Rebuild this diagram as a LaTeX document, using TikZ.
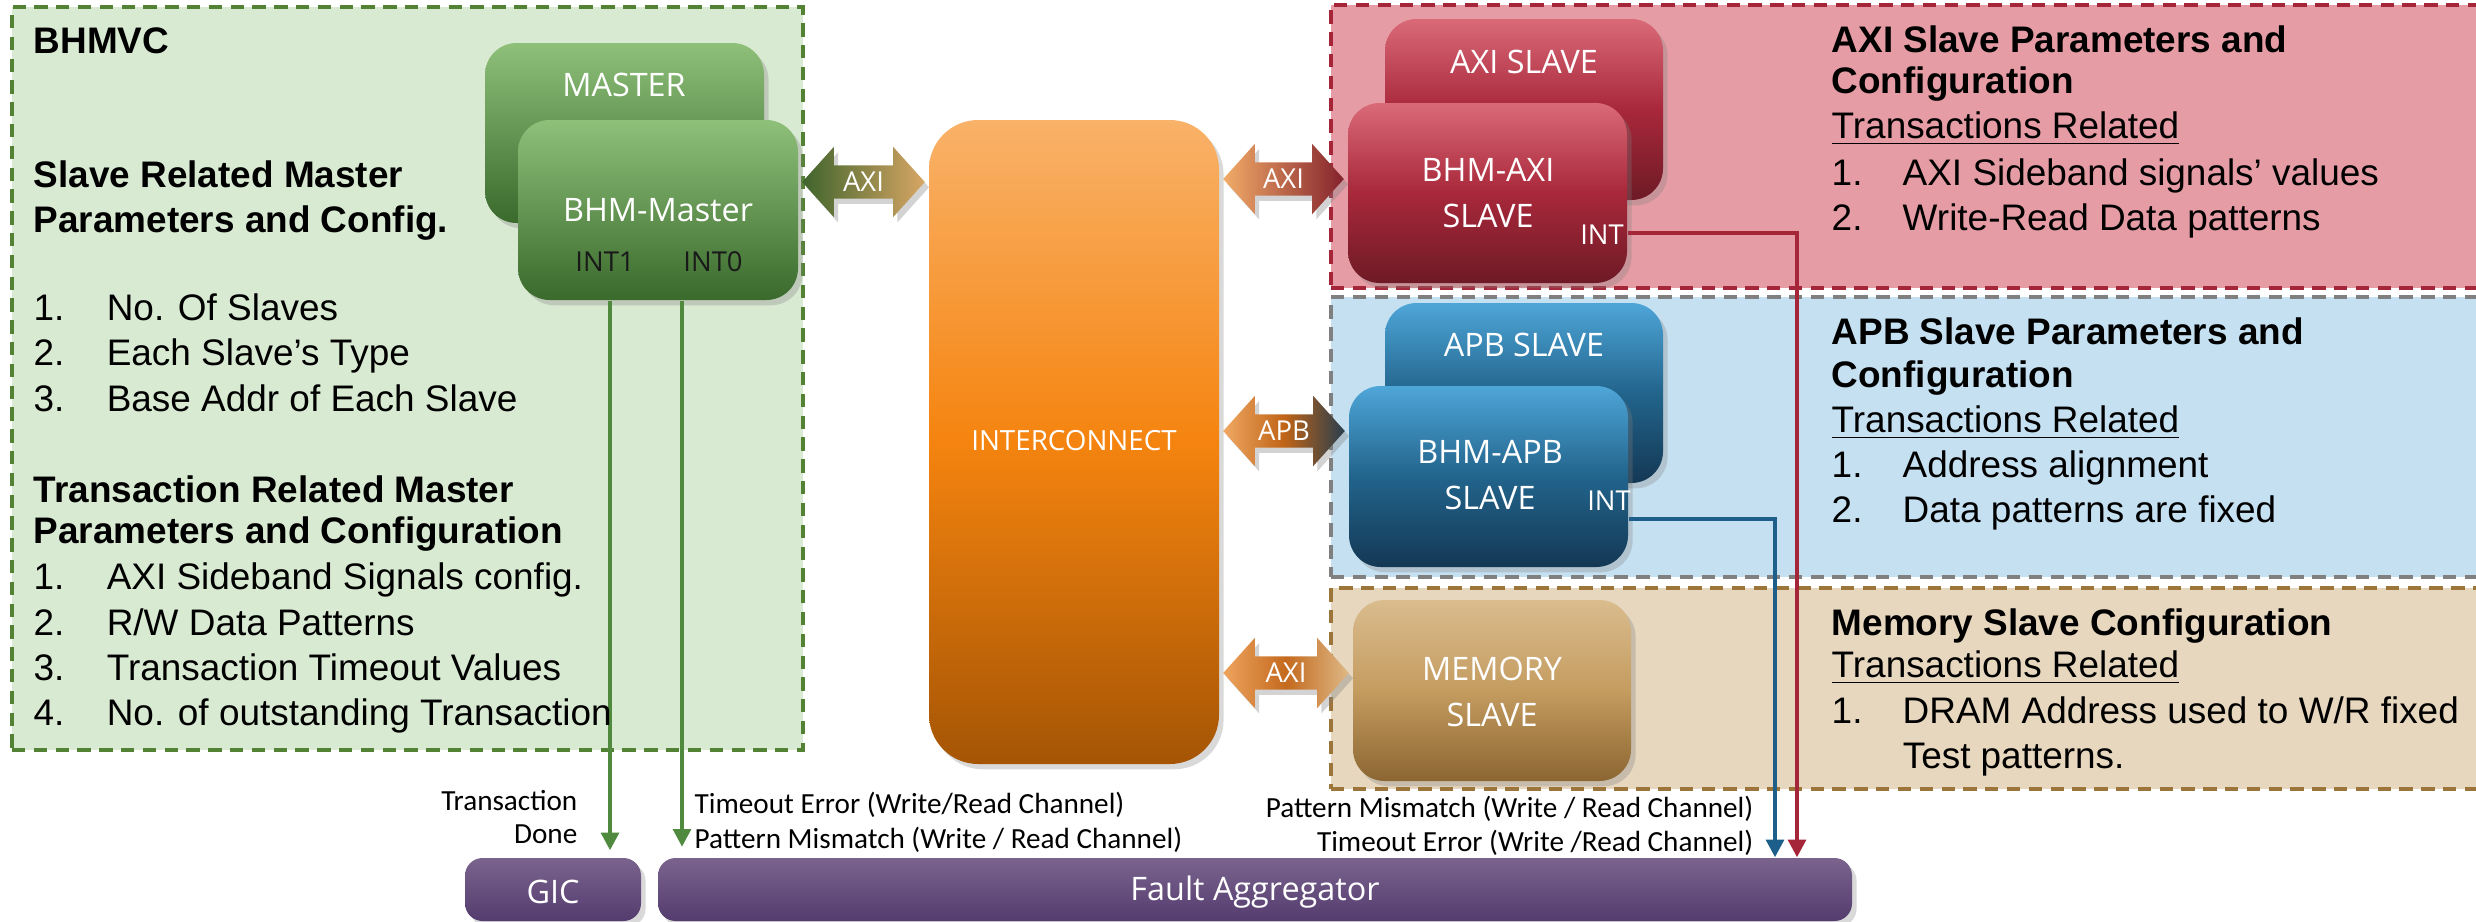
\documentclass[tikz,border=0pt]{standalone}
\usepackage{fontspec}
\setmainfont{Liberation Sans}
\newfontfamily\shapefont{Open Sans}
\newfontfamily\labelfont{Carlito}
\usetikzlibrary{shadows,fit,calc,arrows.meta}
\definecolor{grnF}{RGB}{217,234,211}
\definecolor{grnB}{RGB}{84,130,53}
\definecolor{redF}{RGB}{229,156,164}
\definecolor{redB}{RGB}{165,38,56}
\definecolor{bluF}{RGB}{197,224,241}
\definecolor{bluB}{RGB}{128,128,128}
\definecolor{brnF}{RGB}{230,215,190}
\definecolor{brnB}{RGB}{156,117,58}
\definecolor{mstT}{RGB}{142,192,122}
\definecolor{mstB}{RGB}{58,106,44}
\definecolor{axT}{RGB}{218,106,120}
\definecolor{axM}{RGB}{168,40,58}
\definecolor{axB}{RGB}{110,26,38}
\definecolor{apT}{RGB}{78,166,216}
\definecolor{apM}{RGB}{34,100,140}
\definecolor{apB}{RGB}{20,56,84}
\definecolor{mmT}{RGB}{218,188,142}
\definecolor{mmM}{RGB}{196,156,96}
\definecolor{mmB}{RGB}{140,102,50}
\definecolor{icT}{RGB}{249,178,105}
\definecolor{icM}{RGB}{245,132,15}
\definecolor{icB}{RGB}{165,85,5}
\definecolor{puT}{RGB}{122,100,142}
\definecolor{puB}{RGB}{84,60,110}
\definecolor{lnG}{RGB}{80,138,62}
\definecolor{lnB}{RGB}{30,94,138}
\definecolor{lnR}{RGB}{165,38,56}
\definecolor{aGL}{RGB}{62,100,44}
\definecolor{aGR}{RGB}{216,166,100}
\definecolor{aRL}{RGB}{242,172,104}
\definecolor{aRR}{RGB}{132,34,44}
\definecolor{aPL}{RGB}{240,168,100}
\definecolor{aPM}{RGB}{192,100,22}
\definecolor{aPR}{RGB}{40,62,78}
\definecolor{aML}{RGB}{238,164,94}
\definecolor{aMM}{RGB}{196,106,30}
\definecolor{aMR}{RGB}{222,184,134}
\tikzset{
 grp/.style={draw=#1, line width=0.9pt, dash pattern=on 3.8pt off 2.4pt, inner sep=0pt},
 blk/.style={inner sep=0pt, rounded corners=9pt, drop shadow={opacity=0.3, shadow xshift=1.3pt, shadow yshift=-1.5pt}},
 blbl/.style={font=\shapefont\fontsize{9.2}{13}\selectfont, text=white, align=center, inner sep=0pt},
 ilbl/.style={font=\shapefont\fontsize{7.8}{9}\selectfont, inner sep=0pt},
 alab/.style={font=\shapefont\fontsize{7.8}{9}\selectfont, text=white, inner sep=0pt},
 txt/.style={font=\fontsize{10.5}{12.5}\selectfont, anchor=base west, inner sep=0pt},
 hd/.style={font=\bfseries\fontsize{10.5}{12.5}\selectfont, anchor=base west, inner sep=0pt},
 sig/.style={font=\labelfont\fontsize{8.3}{10}\selectfont, inner sep=0pt},
 conn/.style={line width=1.1pt, -{Triangle[length=5pt,width=5pt]}},
 arrsh/.style={drop shadow={opacity=0.35, shadow xshift=1.2pt, shadow yshift=-1.5pt}}
}
\newcommand\biarrow[4]{%
 \path[arrsh,#4] let \p1=(#1.east), \p2=(#2.west), \p3=(#3) in
 (\x1+1pt,\y3) -- (\x1+10pt,\y3+10pt) -- (\x1+10pt,\y3+4.7pt) -- (\x2-10pt,\y3+4.7pt) -- (\x2-10pt,\y3+10pt) -- (\x2-1pt,\y3) -- (\x2-10pt,\y3-10pt) -- (\x2-10pt,\y3-4.7pt) -- (\x1+10pt,\y3-4.7pt) -- (\x1+10pt,\y3-10pt) -- cycle;}
\newcommand\numl[2]{\makebox[#1][l]{#2}}
\begin{document}
\begin{tikzpicture}[x=0.01cm,y=-0.01cm]
\useasboundingbox (0,0) rectangle (2476,921);
\begin{scope}
\clip (0,0) rectangle (2476,921);
% group backgrounds
\node[grp=grnB, fill=grnF, fit={(12,7)(803,750)}] (bhmvc) {};
\node[grp=redB, fill=redF, fit={(1331,5)(2495,288)}] (axigrp) {};
\node[grp=bluB, fill=bluF, fit={(1331,297)(2495,577)}] (apbgrp) {};
\node[grp=brnB, fill=brnF, fit={(1331,588)(2495,789)}] (memgrp) {};
% blocks
\node[blk, top color=mstT, bottom color=mstB, fit={(485,43)(764,223)}] (master) {};
\node[blk, top color=mstT, bottom color=mstB, fit={(518,120)(798,300)}] (bhmm) {};
\node[blk, rounded corners=14pt, top color=icT, bottom color=icB, middle color=icM, fit={(929,120)(1219,764)}] (ic) {};
\node[blk, top color=axT, bottom color=axB, middle color=axM, fit={(1385,19)(1663,200)}] (axis) {};
\node[blk, top color=axT, bottom color=axB, middle color=axM, fit={(1348,103)(1627,283)}] (bhmaxi) {};
\node[blk, top color=apT, bottom color=apB, middle color=apM, fit={(1385,303)(1663,483)}] (apbs) {};
\node[blk, top color=apT, bottom color=apB, middle color=apM, fit={(1349,386)(1628,567)}] (bhmapb) {};
\node[blk, top color=mmT, bottom color=mmB, middle color=mmM, fit={(1353,600)(1631,781)}] (mem) {};
\node[blk, rounded corners=5pt, top color=puT, bottom color=puB, fit={(465,858)(641,921)}] (gic) {};
\node[blk, rounded corners=5pt, top color=puT, bottom color=puB, fit={(658,858)(1852,921)}] (fault) {};
% block labels
\node[blbl] (tmaster) at (624,85) {MASTER};
\node[blbl] (tbhmm) at (658,210) {BHM-Master};
\node[ilbl, text=black!90] (int1) at (605,262) {INT1};
\node[ilbl, text=black!90] (int0) at (713,262) {INT0};
\node[blbl, font=\shapefont\fontsize{7.9}{10}\selectfont] (tic) at (1074,441) {INTERCONNECT};
\node[blbl] (taxis) at (1524,62) {AXI SLAVE};
\node[blbl] (tbhmaxi) at (1488,193) {BHM-AXI\\SLAVE};
\node[ilbl, text=white] (intaxi) at (1602,235) {INT};
\node[blbl] (tapbs) at (1524,345) {APB SLAVE};
\node[blbl] (tbhmapb) at (1490,475) {BHM-APB\\SLAVE};
\node[ilbl, text=white] (intapb) at (1609,501) {INT};
\node[blbl] (tmem) at (1492,692) {MEMORY\\SLAVE};
\node[blbl] (tgic) at (553,892) {GIC};
\node[blbl] (tfault) at (1255,892) {Fault Aggregator};
% bus arrows
\coordinate (yA) at (0,182);
\coordinate (yB) at (0,179);
\coordinate (yC) at (0,431);
\coordinate (yD) at (0,673);
\biarrow{bhmm}{ic}{yA}{left color=aGL, right color=aGR}
\biarrow{ic}{bhmaxi}{yB}{left color=aRL, right color=aRR}
\biarrow{ic}{bhmapb}{yC}{left color=aPL, right color=aPR, middle color=aPM}
\biarrow{ic}{mem}{yD}{left color=aML, right color=aMR, middle color=aMM}
\node[alab] (lax1) at ($(bhmm.east |- yA)!0.5!(ic.west |- yA)$) {AXI};
\node[alab] (lax2) at ($(ic.east |- yB)!0.5!(bhmaxi.west |- yB)$) {AXI};
\node[alab] (lapb) at ($(ic.east |- yC)!0.5!(bhmapb.west |- yC)$) {APB};
\node[alab] (lax3) at ($(ic.east |- yD)!0.5!(mem.west |- yD)$) {AXI};
% interrupt connectors
\coordinate (xg1) at (610,0);
\coordinate (xg2) at (682,0);
\coordinate (xr) at (1797,0);
\coordinate (xb) at (1775,0);
\coordinate (yr) at (0,233);
\coordinate (yb) at (0,519);
\draw[conn, lnG, shorten >=2pt] (bhmm.south -| xg1) -- (gic.north -| xg1);
\draw[conn, lnG, shorten >=3pt] (bhmm.south -| xg2) -- (fault.north -| xg2);
\draw[conn, lnB] (bhmapb.east |- yb) -| (fault.north -| xb);
\draw[conn, lnR] (bhmaxi.east |- yr) -| (fault.north -| xr);
% signal labels
\node[sig, anchor=base east] (sTr) at (578,810) {Transaction};
\node[sig, anchor=base east] (sDn) at (578,843) {Done};
\node[sig, anchor=base west] (sT1) at (694,813) {Timeout Error (Write/Read Channel)};
\node[sig, anchor=base west] (sP1) at (694,848) {Pattern Mismatch (Write / Read Channel)};
\node[sig, anchor=base east] (sP2) at (1754,817) {Pattern Mismatch (Write / Read Channel)};
\node[sig, anchor=base east] (sT2) at (1754,851) {Timeout Error (Write /Read Channel)};
% left text
\node[hd] (h0) at (33,53) {BHMVC};
\node[hd] (h1) at (33,187) {Slave Related Master};
\node[hd] (h2) at (33,232) {Parameters and Config.};
\node[txt] (l1) at (33,320) {\numl{20.8pt}{1.}No. Of Slaves};
\node[txt] (l2) at (33,365) {\numl{20.8pt}{2.}Each Slave’s Type};
\node[txt] (l3) at (33,411) {\numl{20.8pt}{3.}Base Addr of Each Slave};
\node[hd] (h3) at (33,502) {Transaction Related Master};
\node[hd] (h4) at (33,543) {Parameters and Configuration};
\node[txt] (m1) at (33,589) {\numl{20.8pt}{1.}AXI Sideband Signals config.};
\node[txt] (m2) at (33,635) {\numl{20.8pt}{2.}R/W Data Patterns};
\node[txt] (m3) at (33,680) {\numl{20.8pt}{3.}Transaction Timeout Values};
\node[txt] (m4) at (33,725) {\numl{20.8pt}{4.}No. of outstanding Transaction};
% right text
\node[hd] (a1) at (1831,52) {AXI Slave Parameters and};
\node[hd] (a2) at (1831,93) {Configuration};
\node[txt] (a3) at (1831,138) {\underline{Transactions Related}};
\node[txt] (a4) at (1831,185) {\numl{20.2pt}{1.}AXI Sideband signals’ values};
\node[txt] (a5) at (1831,230) {\numl{20.2pt}{2.}Write-Read Data patterns};
\node[hd] (b1) at (1831,344) {APB Slave Parameters and};
\node[hd] (b2) at (1831,387) {Configuration};
\node[txt] (b3) at (1831,432) {\underline{Transactions Related}};
\node[txt] (b4) at (1831,477) {\numl{20.2pt}{1.}Address alignment};
\node[txt] (b5) at (1831,522) {\numl{20.2pt}{2.}Data patterns are fixed};
\node[hd] (c1) at (1831,635) {Memory Slave Configuration};
\node[txt] (c2) at (1831,677) {\underline{Transactions Related}};
\node[txt] (c3) at (1831,723) {\numl{20.2pt}{1.}DRAM Address used to W/R fixed};
\node[txt] (c4) at (1831,768) {\numl{20.2pt}{}Test patterns.};
\end{scope}
\end{tikzpicture}
\end{document}
